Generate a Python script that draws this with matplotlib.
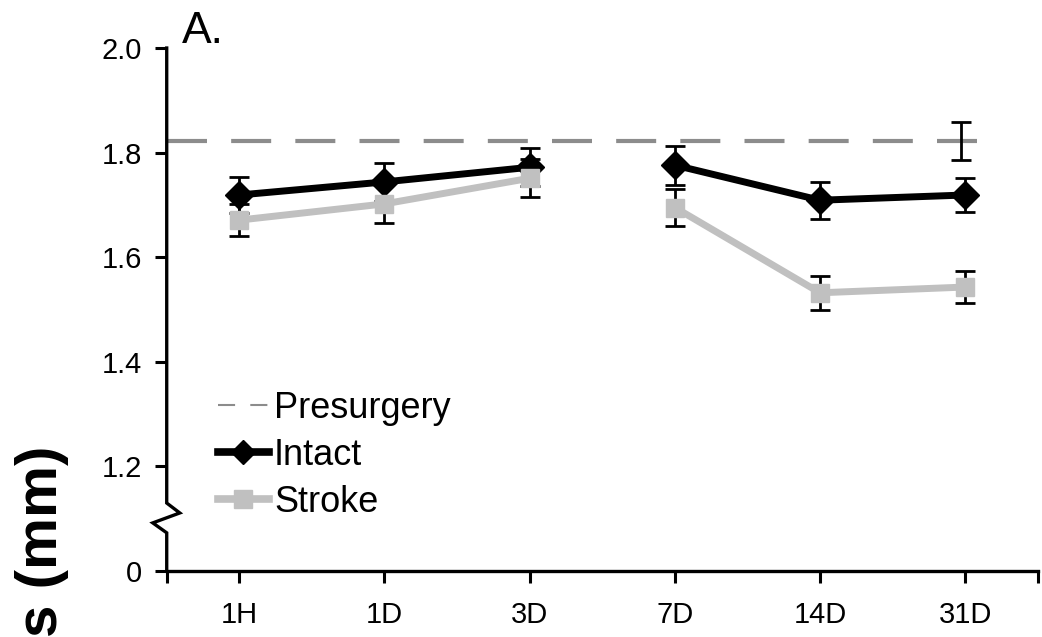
import matplotlib
matplotlib.use('Agg')
import matplotlib.pyplot as plt
import matplotlib.lines as mlines

plt.rcParams['font.family'] = ['Liberation Sans', 'DejaVu Sans']

# data
timepoints = ['1H', '1D', '3D', '7D', '14D', '31D']
intact_mean = [1.719, 1.744, 1.772, 1.776, 1.709, 1.719]
intact_err = [0.034, 0.036, 0.036, 0.037, 0.035, 0.033]
stroke_mean = [1.671, 1.702, 1.751, 1.695, 1.532, 1.543]
stroke_err = [0.031, 0.037, 0.036, 0.035, 0.032, 0.030]
presurgery_mean = 1.822
presurgery_err = 0.037

ytick_vals = [1.0, 1.2, 1.4, 1.6, 1.8, 2.0]
ytick_labels = ['0', '1.2', '1.4', '1.6', '1.8', '2.0']

black = 'black'
grey = '#C0C0C0'
dash_grey = '#8C8C8C'

fig = plt.figure(figsize=(10.42, 6.37), dpi=100)
ax = fig.add_axes([0.160, 0.1036, 0.836, 0.821])

x = list(range(1, len(timepoints) + 1))

# presurgery reference line and its error bar
ax.plot([0.5, 6.16], [presurgery_mean, presurgery_mean], color=dash_grey, lw=3,
        linestyle=(0, (9.6, 5.8)), zorder=1, solid_capstyle='butt')
ax.errorbar([5.97], [presurgery_mean], yerr=[presurgery_err], fmt='none',
            ecolor=black, elinewidth=2, capsize=7, capthick=2, zorder=2)

# two segments each, gap between 3D and 7D
for seg in (slice(0, 3), slice(3, 6)):
    ax.errorbar(x[seg], intact_mean[seg], yerr=intact_err[seg], fmt='none',
                ecolor=black, elinewidth=2, capsize=7, capthick=2, zorder=3)
    ax.plot(x[seg], intact_mean[seg], color=black, lw=5, marker='D', ms=14, zorder=4)
    ax.errorbar(x[seg], stroke_mean[seg], yerr=stroke_err[seg], fmt='none',
                ecolor=black, elinewidth=2, capsize=7, capthick=2, zorder=5)
    ax.plot(x[seg], stroke_mean[seg], color=grey, lw=5, marker='s', ms=13, zorder=6)

ax.set_xlim(0.5, 6.5)
ax.set_ylim(1.0, 2.0)

ax.set_xticks(x)
ax.set_xticklabels(timepoints, fontsize=21)
ax.set_xticks([0.5, 6.5], minor=True)
ax.set_yticks(ytick_vals)
ax.set_yticklabels(ytick_labels, fontsize=21)
ax.tick_params(axis='both', which='both', direction='out', length=8.6, width=2.2)
ax.tick_params(axis='x', pad=13)
ax.tick_params(axis='y', pad=9)

for side in ('top', 'right', 'left'):
    ax.spines[side].set_visible(False)
ax.spines['bottom'].set_linewidth(2.4)

# y axis with a zigzag break
ytr = ax.get_yaxis_transform()
ax.plot([0, 0, -0.016, 0.015, 0, 0], [1.0, 1.073, 1.092, 1.111, 1.130, 2.0],
        transform=ytr, color=black, lw=2.4, clip_on=False, zorder=10,
        solid_joinstyle='miter')

# legend
pre_h = mlines.Line2D([], [], color=dash_grey, lw=1.5, linestyle=(0, (8.2, 7.3)))
int_h = mlines.Line2D([], [], color=black, lw=5.5, marker='D', ms=12)
str_h = mlines.Line2D([], [], color=grey, lw=5.5, marker='s', ms=13)
fig.legend([pre_h, int_h, str_h], ['Presurgery', 'Intact', 'Stroke'],
           loc='upper left', bbox_to_anchor=(218 / 1042, 1 - 391 / 637),
           frameon=False, fontsize=26, handlelength=1.4, handletextpad=0.15,
           labelspacing=0.33, borderpad=0, borderaxespad=0)

fig.text(182 / 1042, 1 - 43 / 637, 'A.', fontsize=32, va='baseline', ha='left')
fig.text(42 / 1042, 1 - 446 / 637, 's (mm)', fontsize=42, weight='bold',
         rotation=90, ha='center', va='top')

fig.savefig('out.png', dpi=100)
